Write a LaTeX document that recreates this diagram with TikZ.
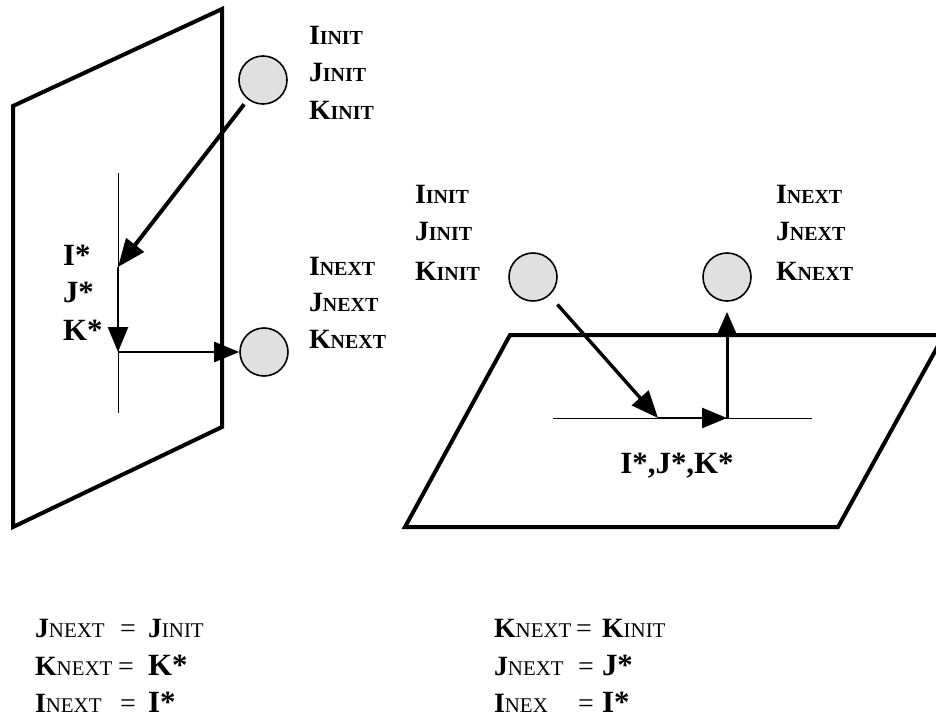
\documentclass[tikz,border=0pt]{standalone}
\usepackage{fontspec}
\setmainfont{Liberation Serif}
\usetikzlibrary{arrows.meta}

% index label: large bold initial followed by bold small capitals
\newcommand\idxlbl[2]{{\bfseries\fontsize{28}{28}\selectfont #1\fontsize{20}{20}\selectfont #2}}
% same, used in the update rules (small part in regular weight)
\newcommand\idxeq[2]{{\bfseries\fontsize{28}{28}\selectfont #1}{\fontsize{21}{21}\selectfont #2}}
\newcommand\starlbl[1]{{\bfseries\fontsize{31}{31}\selectfont #1}}
\newcommand\eqsign{{\fontsize{28}{28}\selectfont =}}

\tikzset{
  plane/.style={draw=black, line width=4bp, line join=miter},
  guide/.style={draw=black, line width=1bp},
  cell/.style={circle, draw=black, line width=1.6bp, fill=black!12, minimum size=48bp, inner sep=0pt},
  heavyarrow/.style={line width=4bp, -{Triangle[length=28bp,width=22bp]}},
  midarrow/.style={line width=2.6bp, -{Triangle[length=25bp,width=20bp]}},
  txt/.style={anchor=base west, inner sep=0pt, outer sep=0pt},
}

\begin{document}
\begin{tikzpicture}[x=1bp,y=-1bp]
\useasboundingbox (0,0) rectangle (936,717);
\clip (0,0) rectangle (936,717);

% ---- vertical plane (left) ----
\draw[plane] (13,106) -- (222,9) -- (222,427) -- (13,527) -- cycle;
\coordinate (va) at (118,173);
\coordinate (vb) at (118,413);
\draw[guide] (va) -- (vb);

\node[cell] (c1) at (263,80) {};
\node[cell] (c2) at (264,352) {};
\coordinate (p1) at (118,267);
\coordinate (p2) at (118,352);

\draw[heavyarrow, shorten <=6bp] (c1) -- (p1);
\draw[midarrow] (p1) -- (p2);
\draw[midarrow] (p2) -- (c2);

\node[txt] (l1) at (309,45)  {\idxlbl{I}{INIT}};
\node[txt] (l2) at (309,82)  {\idxlbl{J}{INIT}};
\node[txt] (l3) at (309,120) {\idxlbl{K}{INIT}};

\node[txt] (s1) at (63,265) {\starlbl{I*}};
\node[txt] (s2) at (63,302) {\starlbl{J*}};
\node[txt] (s3) at (63,340) {\starlbl{K*}};

\node[txt] (n1) at (309,275) {\idxlbl{I}{NEXT}};
\node[txt] (n2) at (309,311) {\idxlbl{J}{NEXT}};
\node[txt] (n3) at (309,348) {\idxlbl{K}{NEXT}};

% ---- horizontal plane (right) ----
\draw[plane] (510,335) -- (944,335) -- (838,527) -- (405,527) -- cycle;
\coordinate (ha) at (553,418);
\coordinate (hb) at (812,418);
\draw[guide] (ha) -- (hb);

\node[cell] (c3) at (533,277) {};
\node[cell] (c4) at (727,277) {};
\coordinate (q1) at (658,418);
\coordinate (q2) at (727,418);

\draw[line width=3.4bp, -{Triangle[length=27bp,width=22bp]}, shorten <=12bp] (c3) -- (q1);
\draw[midarrow] (q1) -- (q2);
\draw[line width=3bp, -{Triangle[length=24bp,width=20bp]}, shorten >=10bp] (q2) -- (c4);

\node[txt] (r1) at (415,203) {\idxlbl{I}{INIT}};
\node[txt] (r2) at (415,240) {\idxlbl{J}{INIT}};
\node[txt] (r3) at (415,280) {\idxlbl{K}{INIT}};

\node[txt] (m1) at (776,203) {\idxlbl{I}{NEXT}};
\node[txt] (m2) at (776,240) {\idxlbl{J}{NEXT}};
\node[txt] (m3) at (776,280) {\idxlbl{K}{NEXT}};

\node[anchor=base, inner sep=0pt] (hs) at (677,473) {\starlbl{I*,J*,K*}};

% ---- update rules: name, equals sign, value ----
\node[txt] (e1) at (35,637) {\idxeq{J}{NEXT}};
\node[txt] (e1q) at (120,637) {\eqsign};
\node[txt] (e1v) at (148,637) {\idxeq{J}{INIT}};
\node[txt] (e2) at (35,675) {\idxeq{K}{NEXT}};
\node[txt] (e2q) at (118,675) {\eqsign};
\node[txt] (e2v) at (148,675) {\starlbl{K*}};
\node[txt] (e3) at (35,712) {\idxeq{I}{NEXT}};
\node[txt] (e3q) at (120,712) {\eqsign};
\node[txt] (e3v) at (148,712) {\starlbl{I*}};

\node[txt] (f1) at (494,637) {\idxeq{K}{NEXT}};
\node[txt] (f1q) at (576,637) {\eqsign};
\node[txt] (f1v) at (602,637) {\idxeq{K}{INIT}};
\node[txt] (f2) at (494,675) {\idxeq{J}{NEXT}};
\node[txt] (f2q) at (578,675) {\eqsign};
\node[txt] (f2v) at (602,675) {\starlbl{J*}};
\node[txt] (f3) at (494,712) {\idxeq{I}{NEX}};
\node[txt] (f3q) at (578,712) {\eqsign};
\node[txt] (f3v) at (602,712) {\starlbl{I*}};
\end{tikzpicture}
\end{document}
